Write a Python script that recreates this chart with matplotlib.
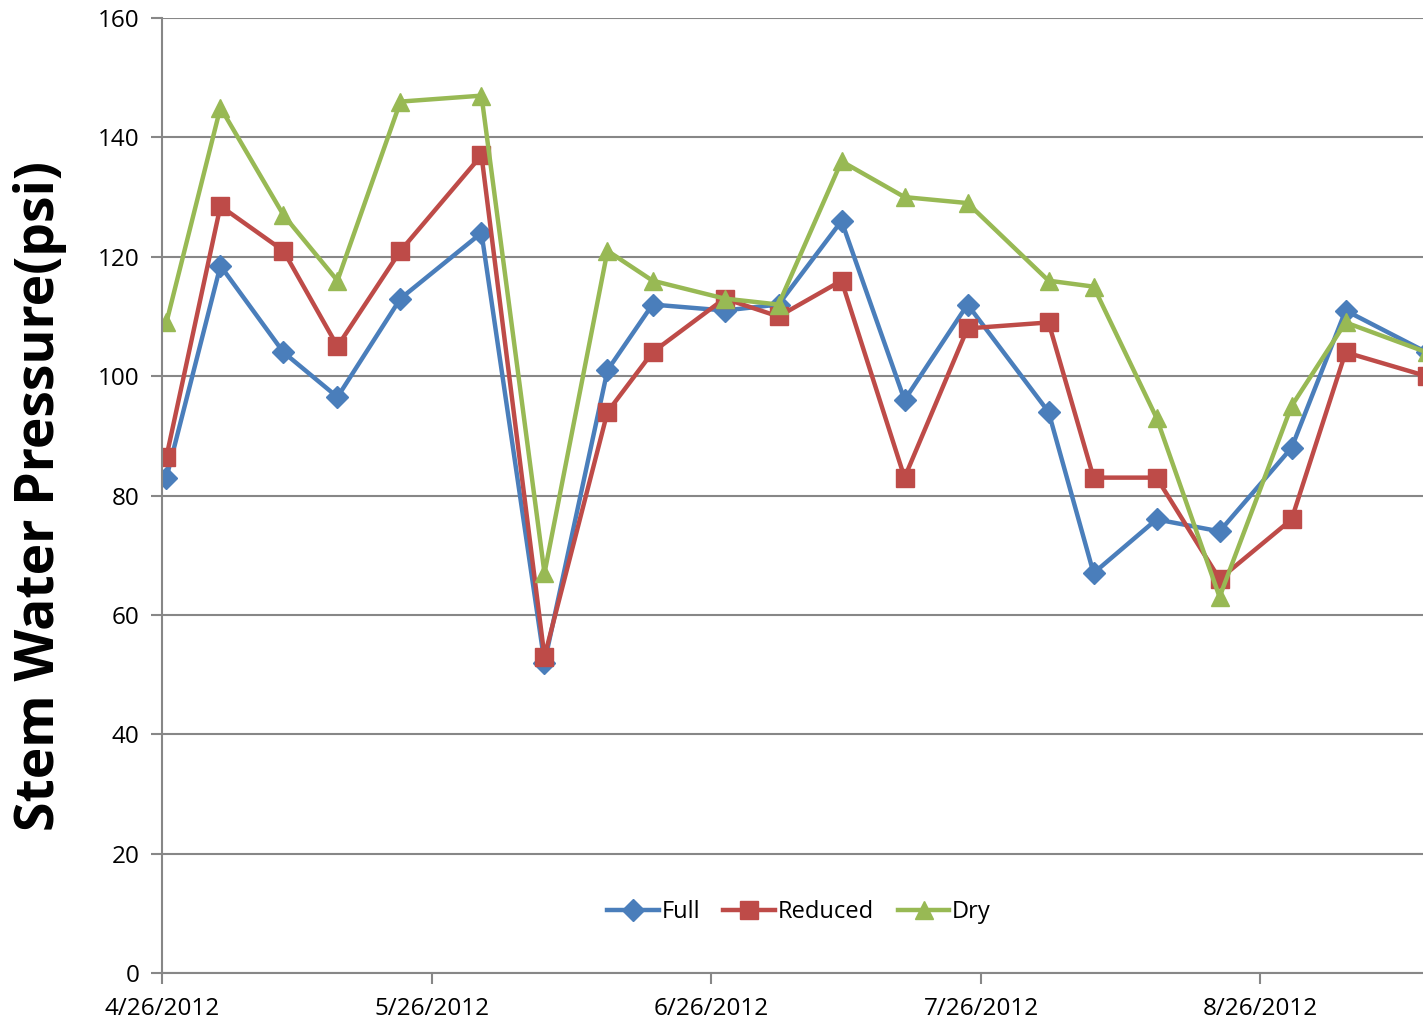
import numpy as np
import pandas as pd
import matplotlib
matplotlib.use('Agg')
import matplotlib.pyplot as plt
import matplotlib.dates as mdates

# measurement dates and stem water pressure (psi)
dates = ['2012-04-26', '2012-05-02', '2012-05-09', '2012-05-15', '2012-05-22',
         '2012-05-31', '2012-06-07', '2012-06-14', '2012-06-19', '2012-06-27',
         '2012-07-03', '2012-07-10', '2012-07-17', '2012-07-24', '2012-08-02',
         '2012-08-07', '2012-08-14', '2012-08-21', '2012-08-29', '2012-09-04',
         '2012-09-13']
full = [83, 118.5, 104, 96.5, 113, 124, 52, 101, 112, 111, 112, 126, 96, 112,
        94, 67, 76, 74, 88, 111, 104]
reduced = [86.5, 128.5, 121, 105, 121, 137, 53, 94, 104, 113, 110, 116, 83, 108,
           109, 83, 83, 66, 76, 104, 100]
dry = [109, 145, 127, 116, 146, 147, 67, 121, 116, 113, 112, 136, 130, 129,
       116, 115, 93, 63, 95, 109, 104]
tick_dates = ['2012-04-26', '2012-05-26', '2012-06-26', '2012-07-26', '2012-08-26']

plt.rcParams['font.family'] = ['Open Sans', 'DejaVu Sans']

# excel puts each point in the middle of its day
x = pd.to_datetime(dates) + pd.Timedelta(hours=12)

fig = plt.figure(figsize=(14.23, 10.25), dpi=100)
ax = fig.add_axes([0.1138, 0.0507, 0.8862, 0.9317])

ax.plot(x, full, '-D', color='#4A7EBB', lw=3.2, ms=11, label='Full')
ax.plot(x, reduced, '-s', color='#BE4B48', lw=3.2, ms=13, label='Reduced')
ax.plot(x, dry, '-^', color='#98B954', lw=3.2, ms=13, label='Dry')

ax.set_ylim(0, 160)
ax.set_yticks(np.arange(0, 161, 20))
start = pd.Timestamp(tick_dates[0])
ax.set_xlim(start, start + pd.Timedelta(days=140.1))
ax.set_xticks(pd.to_datetime(tick_dates))
ax.xaxis.set_major_formatter(mdates.DateFormatter('%-m/%d/%Y'))

ax.grid(axis='y', color='#878787', lw=1.5)
ax.set_axisbelow(True)
for s in ['top', 'right']:
    ax.spines[s].set_visible(False)
for s in ['left', 'bottom']:
    ax.spines[s].set_color('#878787')
    ax.spines[s].set_linewidth(1.5)
ax.tick_params(axis='both', colors='#878787', width=1.5, length=8, labelsize=17.5,
               labelcolor='black')
ax.tick_params(axis='y', pad=8)
ax.tick_params(axis='x', pad=9)

ax.set_ylabel('Stem Water Pressure(psi)', fontsize=38.5, fontweight='bold', labelpad=22)

ax.legend(loc='center', bbox_to_anchor=(0.505, 0.064), ncol=3, frameon=False,
          fontsize=17, handlelength=2.2, handletextpad=0.1, columnspacing=1.0)

fig.savefig('out.png', dpi=100)
